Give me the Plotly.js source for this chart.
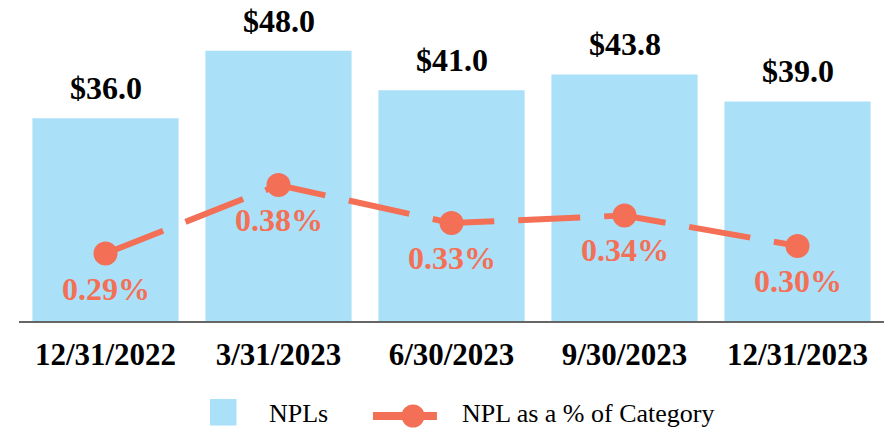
<!DOCTYPE html>
<html>
<head>
<meta charset="utf-8">
<script src="https://cdn.plot.ly/plotly-3.0.1.min.js"></script>
<style>html,body{margin:0;padding:0;background:#fff;}#chart{width:885px;height:430px;}</style>
</head>
<body>
<div id="chart"></div>
<script>
const categories = ['12/31/2022', '3/31/2023', '6/30/2023', '9/30/2023', '12/31/2023'];
const nplValues = [36.0, 48.0, 41.0, 43.8, 39.0];
const nplPctValues = [0.29, 0.38, 0.33, 0.34, 0.30];
const nplLabels = nplValues.map(v => '$' + v.toFixed(1));
const pctLabels = nplPctValues.map(v => v.toFixed(2) + '%');
const seriesNames = ['NPLs', 'NPL as a % of Category'];

const serif = 'Liberation Serif, Times New Roman, serif';
const barColor = '#abe0f9';
const lineColor = '#f37056';

const traces = [
  {
    type: 'bar', name: seriesNames[0], x: categories, y: nplValues,
    marker: {color: barColor}, hoverinfo: 'skip'
  },
  {
    type: 'scatter', mode: 'lines+markers', name: seriesNames[1],
    x: categories, y: nplPctValues, yaxis: 'y2',
    line: {color: lineColor, width: 6, dash: '62px,24px'},
    marker: {color: lineColor, size: 24}, hoverinfo: 'skip'
  }
];

const annotations = [];
categories.forEach((c, i) => {
  annotations.push({
    x: c, y: nplValues[i], xref: 'x', yref: 'y', text: nplLabels[i],
    showarrow: false, yanchor: 'bottom', yshift: 10,
    font: {family: serif, size: 32, color: '#000', weight: 'bold'}
  });
  annotations.push({
    x: c, y: nplPctValues[i], xref: 'x', yref: 'y2', text: pctLabels[i],
    showarrow: false, yanchor: 'middle', yshift: -35,
    font: {family: serif, size: 32, color: lineColor, weight: 'bold'}
  });
});

// custom legend (paper coordinates)
annotations.push({
  x: 0.2870, y: -0.3059, xref: 'paper', yref: 'paper', text: seriesNames[0],
  showarrow: false, xanchor: 'left', yanchor: 'middle',
  font: {family: serif, size: 26, color: '#000'}
});
annotations.push({
  x: 0.5100, y: -0.3059, xref: 'paper', yref: 'paper', text: seriesNames[1],
  showarrow: false, xanchor: 'left', yanchor: 'middle',
  font: {family: serif, size: 26, color: '#000'}
});
const shapes = [
  {type: 'rect', xref: 'paper', yref: 'paper', x0: 0.2208, x1: 0.2514, y0: -0.3438, y1: -0.2566,
   fillcolor: barColor, line: {width: 0}},
  {type: 'line', xref: 'paper', yref: 'paper', x0: 0.4092, x1: 0.4832, y0: -0.3125, y1: -0.3125,
   line: {color: lineColor, width: 8}},
  {type: 'circle', xref: 'paper', yref: 'paper', x0: 0.4422, x1: 0.4688, y0: -0.3503, y1: -0.2747,
   fillcolor: lineColor, line: {width: 0}}
];

const layout = {
  width: 885, height: 430,
  margin: {l: 19, r: 1, t: 17, b: 109},
  paper_bgcolor: '#fff', plot_bgcolor: '#fff',
  bargap: 0.155,
  showlegend: false,
  xaxis: {
    type: 'category', showgrid: false, zeroline: false, automargin: false,
    showline: true, linecolor: '#666', linewidth: 2, ticks: '', ticklabelstandoff: 5,
    tickfont: {family: serif, size: 31, color: '#000', weight: 'bold'}
  },
  yaxis: {range: [0, 54], visible: false, showgrid: false, zeroline: false, automargin: false},
  yaxis2: {range: [0.2013, 0.6009], overlaying: 'y', visible: false, showgrid: false, zeroline: false, automargin: false},
  annotations: annotations,
  shapes: shapes
};

Plotly.newPlot('chart', traces, layout, {displayModeBar: false, staticPlot: true});
</script>
</body>
</html>
